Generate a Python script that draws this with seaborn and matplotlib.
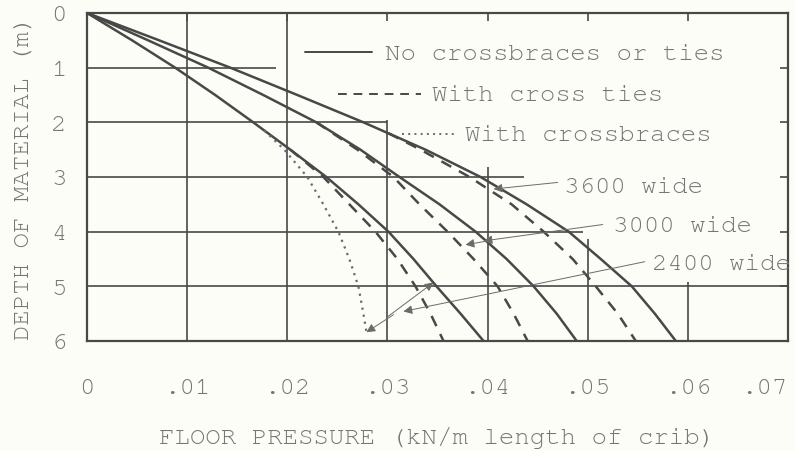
import matplotlib
matplotlib.use("Agg")
import matplotlib.pyplot as plt
import matplotlib.transforms as mtransforms
import seaborn as sns
import logging
logging.getLogger("matplotlib.font_manager").setLevel(logging.ERROR)

# ---------------- data ----------------
depth = [0, 0.5, 1.0, 1.5, 2.0, 2.5, 3.0, 3.5, 4.0, 4.5, 5.0, 5.5, 6.0]
none_2400 = [0, .0045, .0088, .0128, .0166, .0203, .0239, .0271, .0301, .0326, .0349, .0373, .0396]
none_3000 = [0, .0061, .0121, .0176, .0229, .0273, .0312, .0352, .0388, .0419, .0446, .0469, .0489]
none_3600 = [0, .0072, .0143, .0210, .0276, .0338, .0393, .0439, .0481, .0513, .0544, .0567, .0588]

ties_depth_2400 = [2.5, 3.0, 3.5, 4.0, 4.5, 5.0, 5.5, 6.0]
ties_2400 = [.0203, .0236, .0262, .0288, .0310, .0328, .0343, .0356]
ties_depth_3000 = [2.0, 2.5, 3.0, 3.5, 4.0, 4.5, 5.0, 5.5, 6.0]
ties_3000 = [.0229, .0270, .0306, .0332, .0360, .0386, .0410, .0426, .0440]
ties_depth_3600 = [2.2, 2.5, 3.0, 3.5, 4.0, 4.5, 5.0, 5.5, 6.0]
ties_3600 = [.0301, .0333, .0382, .0424, .0456, .0485, .0508, .0530, .0548]

braces_depth = [2.15, 2.5, 3.0, 3.5, 4.0, 4.5, 5.0, 5.5, 5.83]
braces_2400 = [.0177, .0197, .0220, .0236, .0251, .0262, .0271, .0276, .0279]

x_ticks = [0, .01, .02, .03, .04, .05, .06, .07]
x_labels = ["0", ".01", ".02", ".03", ".04", ".05", ".06", ".07"]
y_ticks = [0, 1, 2, 3, 4, 5, 6]
y_labels = ["0", "1", "2", "3", "4", "5", "6"]

legend_labels = ["No crossbraces or ties", "With cross ties", "With crossbraces"]
width_labels = ["3600 wide", "3000 wide", "2400 wide"]

# ---------------- style ----------------
sns.set_style("white")
plt.rcParams["font.family"] = ["Nimbus Mono PS", "FreeMono", "Courier New", "Courier",
                               "Liberation Mono", "DejaVu Sans Mono"]
INK = "#484848"
TXT = "#767676"
BG = "#fdfdf8"
FS = 18.5

fig = plt.figure(figsize=(7.95, 4.52), dpi=100, facecolor=BG)
ax = fig.add_axes([0.1094, 0.2434, 0.8818, 0.7257])
ax.set_facecolor(BG)
ax.set_xlim(0, 0.07)
ax.set_ylim(6, 0)

# partial hand-drawn grid
h_extent = {1: 0.0189, 2: 0.030, 3: 0.0436, 4: 0.0495, 5: 0.07}
for yv, xe in h_extent.items():
    ax.hlines(yv, 0, xe, color=INK, lw=1.2, zorder=1)
v_extent = {0.01: 0.0, 0.02: 0.0, 0.03: 1.95, 0.04: 2.82, 0.05: 4.13, 0.06: 4.92}
for xv, ys in v_extent.items():
    ax.vlines(xv, ys, 6, color=INK, lw=1.2, zorder=1)

solid_ls = "-"
dash_ls = (0, (4.5, 3.5))
dot_ls = (0, (1, 2.2))

for vals in (none_2400, none_3000, none_3600):
    sns.lineplot(x=vals, y=depth, sort=False, estimator=None, ax=ax,
                 color=INK, lw=1.8, linestyle=solid_ls, zorder=3)
for d, vals in ((ties_depth_2400, ties_2400), (ties_depth_3000, ties_3000),
                (ties_depth_3600, ties_3600)):
    sns.lineplot(x=vals, y=d, sort=False, estimator=None, ax=ax,
                 color=INK, lw=1.8, linestyle=dash_ls, zorder=3)
sns.lineplot(x=braces_2400, y=braces_depth, sort=False, estimator=None, ax=ax,
             color="#6a6a6a", lw=1.6, linestyle=dot_ls, zorder=3)

# frame
for s in ax.spines.values():
    s.set_visible(True)
    s.set_color(INK)
    s.set_linewidth(1.6)

ax.set_xticks(x_ticks)
ax.set_xticklabels(x_labels)
ax.set_yticks(y_ticks)
ax.set_yticklabels(y_labels)
ax.tick_params(axis="x", direction="out", length=9.5, width=1.3, color=INK,
               pad=17, labelsize=FS, labelcolor=TXT)
ax.tick_params(axis="y", direction="out", length=8.5, width=1.3, color=INK,
               pad=6, labelsize=FS, labelcolor=TXT)
# last x label sits just inside the figure edge
last = ax.get_xticklabels()[-1]
last.set_transform(last.get_transform() +
                   mtransforms.ScaledTranslation(-24 / 100, 0, fig.dpi_scale_trans))

top = ax.secondary_xaxis("top")
top.set_xticks(x_ticks)
top.tick_params(direction="in", length=6, width=1.2, color=INK, labeltop=False)
top.spines["top"].set_visible(False)
right = ax.secondary_yaxis("right")
right.set_yticks(y_ticks)
right.tick_params(direction="in", length=6, width=1.2, color=INK, labelright=False)
right.spines["right"].set_visible(False)

ax.set_xlabel("FLOOR PRESSURE (kN/m length of crib)", fontsize=FS, color=TXT, labelpad=20)
ax.set_ylabel("DEPTH OF MATERIAL (m)", fontsize=FS, color=TXT, labelpad=13)

# legend drawn by hand (staggered entries)
tr = ax.transAxes
ax.add_line(plt.Line2D([0.311, 0.407], [0.881, 0.881], transform=tr, color=INK, lw=1.4, ls=solid_ls))
ax.text(0.425, 0.875, legend_labels[0], transform=tr, fontsize=FS, color=TXT, va="center")
ax.add_line(plt.Line2D([0.358, 0.476], [0.753, 0.753], transform=tr, color=INK, lw=1.4, ls=dash_ls))
ax.text(0.492, 0.750, legend_labels[1], transform=tr, fontsize=FS, color=TXT, va="center")
ax.add_line(plt.Line2D([0.450, 0.528], [0.631, 0.631], transform=tr, color="#6a6a6a", lw=1.4, ls=dot_ls))
ax.text(0.539, 0.628, legend_labels[2], transform=tr, fontsize=FS, color=TXT, va="center")

# width labels with leader arrows
ap = dict(arrowstyle="-|>", color="#6a6a6a", lw=0.7, mutation_scale=13, shrinkA=0, shrinkB=0)
ax.text(0.0476, 3.18, width_labels[0], fontsize=FS, color=TXT, va="center")
ax.annotate("", xy=(0.0406, 3.22), xytext=(0.0470, 3.10), arrowprops=ap)

ax.text(0.0525, 3.90, width_labels[1], fontsize=FS, color=TXT, va="center")
ax.annotate("", xy=(0.0396, 4.17), xytext=(0.0515, 3.87), arrowprops=ap)
ax.annotate("", xy=(0.0378, 4.24), xytext=(0.0400, 4.17), arrowprops=ap)

ax.text(0.0564, 4.59, width_labels[2], fontsize=FS, color=TXT, va="center", clip_on=False)
ax.annotate("", xy=(0.0316, 5.46), xytext=(0.0557, 4.55), arrowprops=ap)
ax.annotate("", xy=(0.0346, 4.93), xytext=(0.0300, 5.56), arrowprops=ap)
ax.annotate("", xy=(0.0279, 5.84), xytext=(0.0306, 5.52), arrowprops=ap)

fig.savefig("out.png", dpi=100, facecolor=BG)
